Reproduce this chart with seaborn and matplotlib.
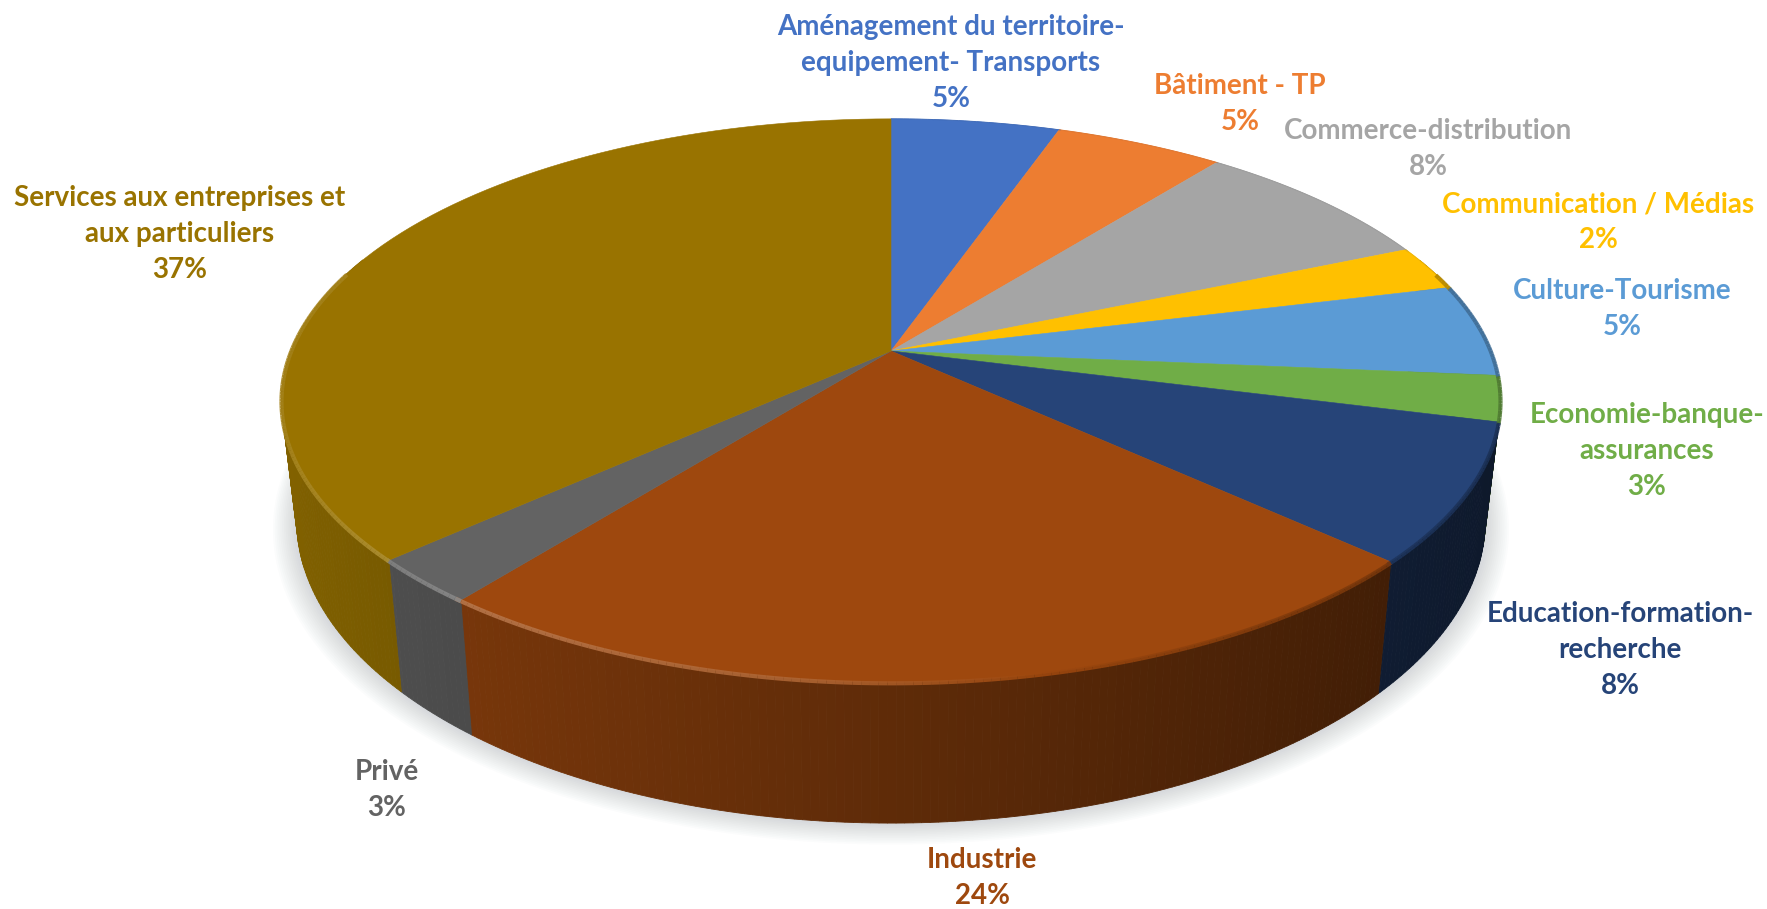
import numpy as np
import matplotlib
matplotlib.use("Agg")
import matplotlib.pyplot as plt
import seaborn as sns

# data
sectors = ["Aménagement du territoire-\nequipement- Transports", "Bâtiment - TP",
           "Commerce-distribution", "Communication / Médias", "Culture-Tourisme",
           "Economie-banque-\nassurances", "Education-formation-\nrecherche",
           "Industrie", "Privé", "Services aux entreprises et\naux particuliers"]
# printed labels are rounded, slice sizes are read from the slice edges
printed = [5, 5, 8, 2, 5, 3, 8, 24, 3, 37]
shares = [5.3, 5.3, 7.9, 2.6, 5.3, 2.6, 7.9, 23.7, 2.6, 36.8]

slice_colors = ["#4472C4", "#ED7D31", "#A5A5A5", "#FFC000", "#5B9BD5",
                "#70AD47", "#264478", "#9E480E", "#636363", "#997300"]

# label centres in pixels, same order as sectors
label_x = [951, 1240, 1428, 1598, 1622, 1647, 1620, 982, 387, 180]
label_y = [63, 104, 149, 222, 309, 451, 650, 878, 790, 234]

sns.set_theme(style="white")
plt.rcParams["font.family"] = ["Lato", "DejaVu Sans"]
palette = sns.color_palette(slice_colors)

# camera for the tilted disc
CX, CY = 891, 351
RX, RY = 600, 273
PERSP = 0.176
DEPTH = 116
BASE_SHRINK = 0.975


def top_rim(t):
    x, y = np.sin(t), np.cos(t)
    w = 1 + PERSP * y
    return CX + RX * x / w, CY - RY * y / w


def base_rim(t):
    xs, ys = top_rim(t)
    w = 1 + PERSP * np.cos(t)
    return CX + (xs - CX) * BASE_SHRINK, ys + DEPTH / w


def shade(color, f):
    c = np.array(color)
    if f <= 1:
        return tuple(c * f)
    return tuple(c + (1 - c) * (f - 1))


fig, ax = plt.subplots(figsize=(17.67, 9.09), dpi=100)
fig.subplots_adjust(0, 0, 1, 1)
ax.set_xlim(0, 1767)
ax.set_ylim(909, 0)
ax.axis("off")

edges = np.cumsum([0] + shares) / sum(shares) * 2 * np.pi

# soft shadow under the disc
ring = np.linspace(0, 2 * np.pi, 300)
bx, by = base_rim(ring)
for s in np.linspace(1.04, 1.0, 14):
    ax.fill(CX + (bx - CX) * s, CY + 25 + (by - CY - 25) * s + (s - 1) * 90,
            color="#8d949c", alpha=0.028, lw=0, zorder=1)

# side wall, thin strips so the shading runs left to right
for i, col in enumerate(palette):
    ts = np.arange(edges[i], edges[i + 1] + 0.012, 0.012)
    ts[-1] = min(ts[-1], edges[i + 1])
    for a, b in zip(ts[:-1], ts[1:]):
        if np.cos((a + b) / 2) > 0.35:
            continue
        f = 0.6 - 0.25 * np.sin((a + b) / 2)
        tx, ty = top_rim(np.array([a, b]))
        ux, uy = base_rim(np.array([b, a]))
        c = shade(col, f)
        ax.fill(np.r_[tx, ux], np.r_[ty, uy], color=c, ec=c, lw=0.6, zorder=2)

# top face
for i, col in enumerate(palette):
    ts = np.linspace(edges[i], edges[i + 1], 80)
    rx, ry = top_rim(ts)
    ax.fill(np.r_[CX, rx], np.r_[CY, ry], color=col, ec=col, lw=0.4, zorder=3)

# bevel on the front rim: light on the left, dark on the right
for i, col in enumerate(palette):
    ts = np.arange(edges[i], edges[i + 1] + 0.012, 0.012)
    for a, b in zip(ts[:-1], ts[1:]):
        m = (a + b) / 2
        x, y = np.sin(m), np.cos(m)
        if y > 0.3:
            if x < 0:
                continue
            f, lw = 0.93, 0.7
        else:
            f = np.interp(x, [-1, -0.6, -0.1, 0.2, 0.6, 1], [1.1, 1.25, 1.15, 1.0, 0.8, 0.7])
            lw = 3
        rx, ry = top_rim(np.array([a, b]))
        ax.plot(rx, ry + (0 if y > 0.3 else 1), color=shade(col, f),
                lw=lw, solid_capstyle="butt", alpha=0.9, zorder=4)

# labels
for name, pct, col, lx, ly in zip(sectors, printed, palette, label_x, label_y):
    ax.text(lx, ly, f"{name}\n{pct}%", color=col, fontsize=20, fontweight="bold",
            ha="center", va="center", linespacing=1.46, zorder=5)

fig.savefig("out.png", dpi=100, facecolor="white")
